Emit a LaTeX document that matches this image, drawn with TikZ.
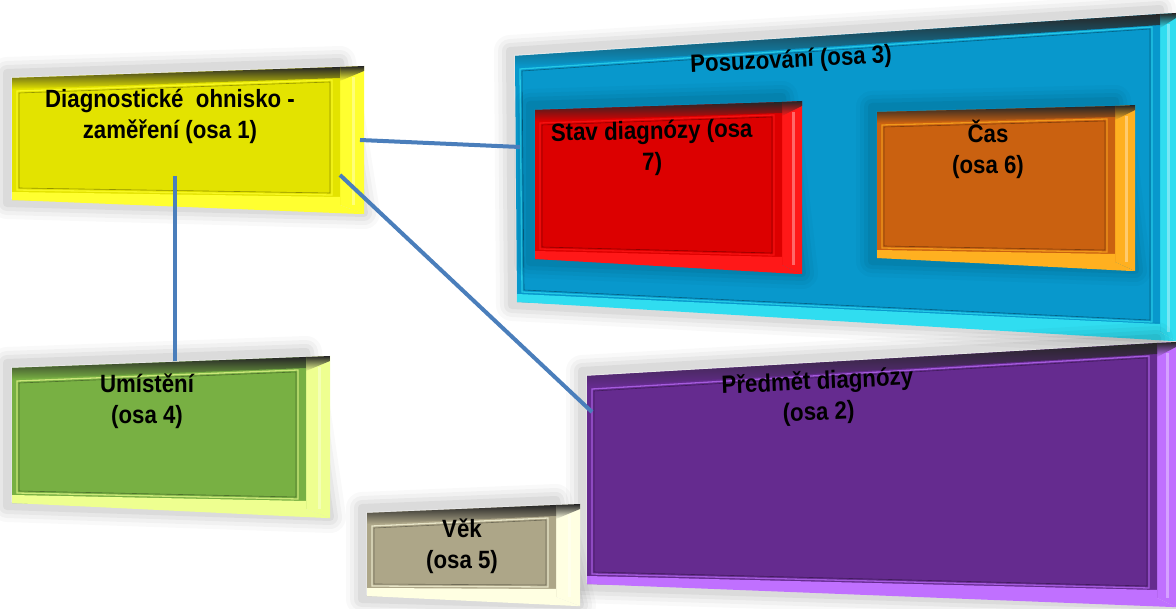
\documentclass[tikz,border=0pt]{standalone}
\usepackage{fontspec}
\setmainfont{Liberation Sans}
\usetikzlibrary{calc}

\definecolor{yelF}{HTML}{E3E300}
\definecolor{yelS}{HTML}{FFFF30}
\definecolor{bluF}{HTML}{0898CC}
\definecolor{bluS}{HTML}{30DDF0}
\definecolor{redF}{HTML}{DC0000}
\definecolor{redS}{HTML}{FF1818}
\definecolor{oraF}{HTML}{CA6110}
\definecolor{oraS}{HTML}{FFB020}
\definecolor{purF}{HTML}{652B8F}
\definecolor{purS}{HTML}{C070FF}
\definecolor{grnF}{HTML}{78B043}
\definecolor{grnS}{HTML}{EEFF90}
\definecolor{begF}{HTML}{ADA688}
\definecolor{begS}{HTML}{FFFFE2}
\definecolor{linkblue}{HTML}{4A7EBB}

\tikzset{
  lbl/.style={font=\bfseries\fontsize{25}{31}\selectfont, align=center, text=black,
              inner sep=0pt, xscale=0.89},
  link/.style={draw=linkblue, line width=4pt},
}

% a bevelled 3D slab: #1 corner prefix, #2 front colour, #3 side colour, #4 side depth
\newcommand{\slab}[4]{%
  \foreach \w/\o in {32/0.025,24/0.03,16/0.04,8/0.05}
    \draw[black, opacity=\o, line width=\w pt, line join=round]
      ($(#1-tl)+(-5,-5)$) -- ($(#1-tr)+(0,-5)$) -- ($(#1-br)+(#4,8)$) -- ($(#1-bl)+(-5,3)$) -- cycle;
  % right side face
  \fill[#3] (#1-tr) -- ($(#1-tr)+(#4,-1)$) -- ($(#1-br)+(#4,9)$) -- (#1-br) -- cycle;
  \shade[top color=black!85, bottom color=#3]
    (#1-tr) -- ($(#1-tr)+(#4,-1)$) -- ($(#1-tr)+(#4,4)$) -- ($(#1-tr)+(0,14)$) -- cycle;
  \draw[white, opacity=.35, line width=3pt] ($(#1-tr)+(#4*0.55,10)$) -- ($(#1-br)+(#4*0.55,0)$);
  % front face
  \fill[#2] (#1-tl) -- (#1-tr) -- (#1-br) -- (#1-bl) -- cycle;
  % dark top bevel
  \shade[top color=black!85, bottom color=#2]
    (#1-tl) -- (#1-tr) -- ($(#1-tr)+(0,11)$) -- ($(#1-tl)+(0,11)$) -- cycle;
  % light bottom bevel
  \fill[#3] ($(#1-bl)+(0,-8)$) -- ($(#1-br)+(0,-8)$) -- (#1-br) -- ($(#1-br)+(#4,9)$) -- ($(#1-br)+(#4-4,9)$) -- (#1-bl) -- cycle;
  % inset frame
  \draw[#3!70!#2, line width=1.3pt]
    ($(#1-tl)+(5,13)$) -- ($(#1-tr)+(-8,13)$) -- ($(#1-br)+(-8,-10)$) -- ($(#1-bl)+(5,-10)$) -- cycle;
  \draw[#2!65!black, line width=0.6pt]
    ($(#1-tl)+(7,15)$) -- ($(#1-tr)+(-10,15)$) -- ($(#1-br)+(-10,-12)$) -- ($(#1-bl)+(7,-12)$) -- cycle;
}

\begin{document}
\begin{tikzpicture}[x=1pt,y=-1pt]
\clip (0,0) rectangle (1176,609);
\fill[white] (0,0) rectangle (1176,609);

% corner points of the slabs
\coordinate (y-tl) at (12,78);   \coordinate (y-tr) at (340,67);
\coordinate (y-br) at (340,205); \coordinate (y-bl) at (12,200);
\coordinate (b-tl) at (515,56);  \coordinate (b-tr) at (1160,14);
\coordinate (b-br) at (1160,332);\coordinate (b-bl) at (517,302);
\coordinate (r-tl) at (535,110); \coordinate (r-tr) at (782,102);
\coordinate (r-br) at (782,265); \coordinate (r-bl) at (535,259);
\coordinate (o-tl) at (877,112); \coordinate (o-tr) at (1115,106);
\coordinate (o-br) at (1115,262);\coordinate (o-bl) at (877,258);
\coordinate (p-tl) at (587,376); \coordinate (p-tr) at (1157,343);
\coordinate (p-br) at (1157,598);\coordinate (p-bl) at (587,584);
\coordinate (g-tl) at (12,368);  \coordinate (g-tr) at (306,357);
\coordinate (g-br) at (306,509); \coordinate (g-bl) at (12,503);
\coordinate (v-tl) at (367,513); \coordinate (v-tr) at (556,505);
\coordinate (v-br) at (556,597); \coordinate (v-bl) at (367,596);

\slab{y}{yelF}{yelS}{24}
\slab{b}{bluF}{bluS}{16}
\slab{r}{redF}{redS}{20}
\slab{o}{oraF}{oraS}{20}
\slab{p}{purF}{purS}{19}
\slab{g}{grnF}{grnS}{24}
\slab{v}{begF}{begS}{24}

% labels
\node[lbl] (focus) at (170,116) {Diagnostické\ \ ohnisko -\\zaměření (osa 1)};
\node[lbl, rotate=2.5] (judge) at (791,61) {Posuzování (osa 3)};
\node[lbl, rotate=1] (status) at (652,148) {Stav diagnózy (osa\\7)};
\node[lbl] (time) at (988,149) {Čas\\(osa 6)};
\node[lbl, rotate=2.5] (subject) at (818,398) {Předmět diagnózy\\(osa 2)};
\node[lbl] (place) at (147,401) {Umístění\\(osa 4)};
\node[lbl] (age) at (462,546) {Věk\\(osa 5)};

% connector end points
\coordinate (fv) at (175,176);
\coordinate (fh) at (360,140);
\coordinate (fd) at (340,175);
\coordinate (pt) at (175,361);
\coordinate (jl) at (520,147);
\coordinate (sl) at (592,412);

\draw[link] (fv) -- (pt);
\draw[link] (fh) -- (jl);
\draw[link] (fd) -- (sl);
\end{tikzpicture}
\end{document}
